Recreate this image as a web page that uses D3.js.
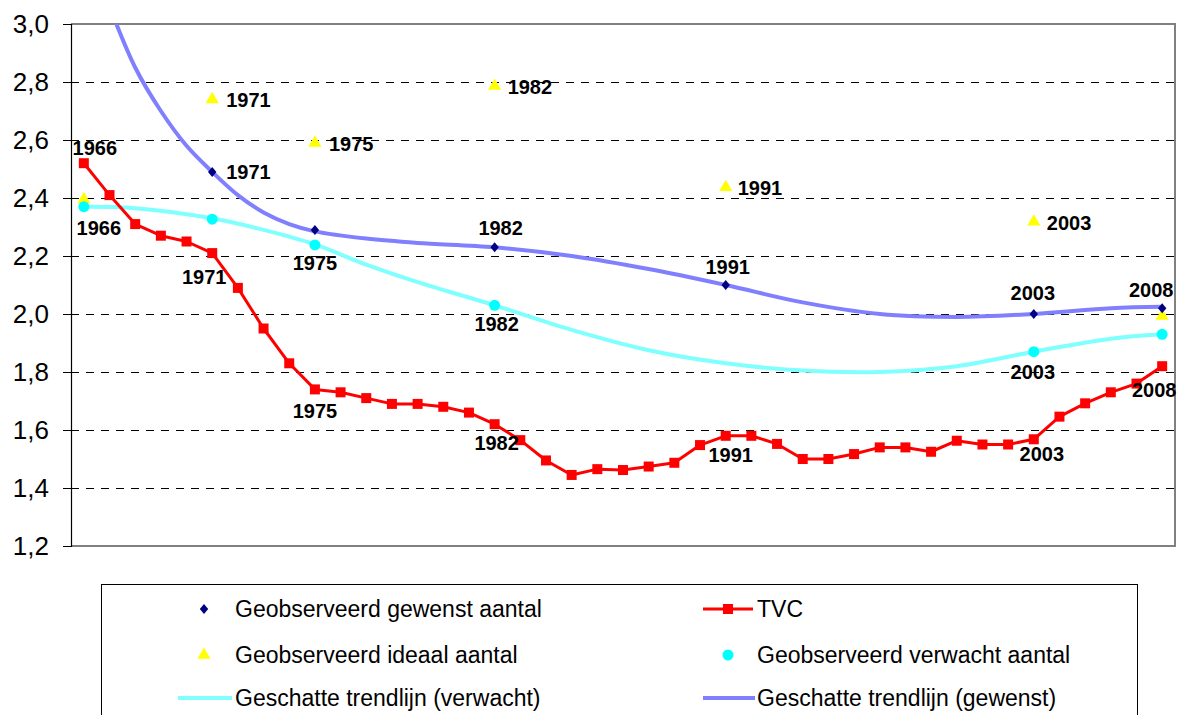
<!DOCTYPE html>
<html>
<head>
<meta charset="utf-8">
<script src="https://cdn.jsdelivr.net/npm/d3@7/dist/d3.min.js"></script>
<style>
  html, body { margin: 0; padding: 0; background: #fff; }
  svg { display: block; font-family: Arial, "Liberation Sans", sans-serif; }
</style>
</head>
<body>
<svg id="chart" width="1177" height="715"></svg>
<script>
// ---------------- DATA ----------------
const years = [1966,1967,1968,1969,1970,1971,1972,1973,1974,1975,1976,1977,1978,1979,1980,
  1981,1982,1983,1984,1985,1986,1987,1988,1989,1990,1991,1992,1993,1994,1995,1996,1997,1998,
  1999,2000,2001,2002,2003,2004,2005,2006,2007,2008];
const tvcValues = [2.52,2.41,2.31,2.27,2.25,2.21,2.09,1.95,1.83,1.74,1.73,1.71,1.69,1.69,1.68,
  1.66,1.62,1.565,1.495,1.445,1.465,1.462,1.474,1.487,1.548,1.58,1.58,1.552,1.50,1.50,1.517,1.54,1.54,
  1.525,1.563,1.55,1.55,1.568,1.646,1.692,1.73,1.76,1.82];

const gewenstYears = [1971,1975,1982,1991,2003,2008];
const gewenstValues = [2.49,2.29,2.23,2.10,2.00,2.02];

const ideaalYears = [1966,1971,1975,1982,1991,2003,2008];
const ideaalValues = [2.395,2.74,2.59,2.786,2.437,2.318,1.993];

const verwachtYears = [1966,1971,1975,1982,2003,2008];
const verwachtValues = [2.37,2.327,2.238,2.03,1.87,1.93];

const trendGewenstYears = [1966,1967,1968,1969,1970,1971,1972,1973,1974,1975,1977,1979,1982,1985,1988,1991,1994,1997,2000,2003,2006,2008];
const trendGewenstValues = [3.30,3.06,2.85,2.70,2.58,2.49,2.41,2.35,2.31,2.285,2.26,2.245,2.23,2.20,2.155,2.10,2.04,2.00,1.99,2.00,2.02,2.025];

const trendVerwachtYears = [1966,1968,1971,1973,1975,1977,1979,1982,1985,1988,1991,1994,1997,2000,2003,2006,2008];
const trendVerwachtValues = [2.37,2.365,2.33,2.29,2.24,2.17,2.11,2.03,1.945,1.875,1.83,1.805,1.80,1.82,1.87,1.915,1.93];

const yTicks = [1.2,1.4,1.6,1.8,2.0,2.2,2.4,2.6,2.8,3.0];

const legendNames = ["Geobserveerd gewenst aantal","TVC","Geobserveerd ideaal aantal",
  "Geobserveerd verwacht aantal","Geschatte trendlijn (verwacht)","Geschatte trendlijn (gewenst)"];

// label placement (offsets from the point, in px)
const tvcLabelLayout = [
  {year:1966, dx:11, dy:-15}, {year:1971, dx:-8, dy:24}, {year:1975, dx:0, dy:22},
  {year:1982, dx:2, dy:19}, {year:1991, dx:5, dy:19}, {year:2003, dx:8, dy:15}, {year:2008, dx:-8, dy:24}];
const gewenstLabelLayout = [
  {year:1971, dx:14, dy:0, anchor:"start"}, {year:1982, dx:6, dy:-19}, {year:1991, dx:2, dy:-18},
  {year:2003, dx:-1, dy:-21}, {year:2008, dx:-11, dy:-18}];
const ideaalLabelLayout = [
  {year:1971, dx:14, dy:1, anchor:"start"}, {year:1975, dx:14, dy:1, anchor:"start"},
  {year:1982, dx:13, dy:1, anchor:"start"}, {year:1991, dx:12, dy:1, anchor:"start"},
  {year:2003, dx:13, dy:1, anchor:"start"}];
const verwachtLabelLayout = [
  {year:1966, dx:15, dy:21}, {year:1975, dx:0, dy:18}, {year:1982, dx:2, dy:19}, {year:2003, dx:-1, dy:20}];

// ---------------- CHART ----------------
const svg = d3.select("#chart");
const plot = {left:71, right:1175, top:24, bottom:546};

const x = d3.scaleLinear().domain([1965.5, 2008.5]).range([plot.left, plot.right]);
const y = d3.scaleLinear().domain([1.2, 3.0]).range([plot.bottom, plot.top]);

const C = {
  tvc:"#FF0000", gewenst:"#000080", ideaal:"#FFFF00", verwacht:"#00FFFF",
  trendV:"#80FFFF", trendG:"#8080FF"
};

const diamondPath = "M0,-5L4.2,0L0,5L-4.2,0Z";

// clip
svg.append("defs").append("clipPath").attr("id","clip")
  .append("rect").attr("x",plot.left).attr("y",plot.top)
  .attr("width",plot.right-plot.left).attr("height",plot.bottom-plot.top);

// gridlines
svg.append("g").selectAll("line").data(yTicks.filter(d => d > 1.21 && d < 2.99)).join("line")
  .attr("x1", plot.left).attr("x2", plot.right)
  .attr("y1", d => y(d)).attr("y2", d => y(d))
  .attr("stroke", "#000").attr("stroke-width", 1).attr("stroke-dasharray", "8,7")
  .attr("shape-rendering","crispEdges");

// plot border (top, right, bottom gray)
svg.append("path")
  .attr("d", `M${plot.left},${plot.top}H${plot.right}V${plot.bottom}H${plot.left}`)
  .attr("fill","none").attr("stroke","#808080").attr("stroke-width",1.5)
  .attr("shape-rendering","crispEdges");

// y axis
const yAxis = d3.axisLeft(y).tickValues(yTicks).tickSize(8).tickPadding(14)
  .tickFormat(d => d3.format(".1f")(d).replace(".", ","));
const gy = svg.append("g").attr("transform", `translate(${plot.left},0)`).call(yAxis);
gy.select(".domain").attr("stroke","#000").attr("stroke-width",1.2);
gy.selectAll(".tick line").attr("stroke","#000");
gy.selectAll(".tick text").attr("font-size", 26).attr("fill","#000")
  .attr("font-family","Arial, 'Liberation Sans', sans-serif");

// trend lines
const lineGen = d3.line().x(d => x(d[0])).y(d => y(d[1])).curve(d3.curveCatmullRom.alpha(0.5));
const gLines = svg.append("g").attr("clip-path","url(#clip)");
gLines.append("path")
  .datum(trendVerwachtYears.map((yr,i) => [yr, trendVerwachtValues[i]]))
  .attr("d", lineGen).attr("fill","none").attr("stroke",C.trendV).attr("stroke-width",4);
gLines.append("path")
  .datum(trendGewenstYears.map((yr,i) => [yr, trendGewenstValues[i]]))
  .attr("d", lineGen).attr("fill","none").attr("stroke",C.trendG).attr("stroke-width",4);

// TVC
const tvcData = years.map((yr,i) => [yr, tvcValues[i]]);
svg.append("path").datum(tvcData)
  .attr("d", d3.line().x(d => x(d[0])).y(d => y(d[1])))
  .attr("fill","none").attr("stroke",C.tvc).attr("stroke-width",3).attr("stroke-linejoin","round");
svg.append("g").selectAll("rect").data(tvcData).join("rect")
  .attr("x", d => x(d[0]) - 5).attr("y", d => y(d[1]) - 5)
  .attr("width", 10).attr("height", 10).attr("fill", C.tvc);

// ideaal triangles
const triSym = d3.symbol().type(d3.symbolTriangle).size(75);
svg.append("g").selectAll("path").data(ideaalYears.map((yr,i) => [yr, ideaalValues[i]])).join("path")
  .attr("d", triSym).attr("transform", d => `translate(${x(d[0])},${y(d[1])})`)
  .attr("fill", C.ideaal);

// verwacht circles
svg.append("g").selectAll("circle").data(verwachtYears.map((yr,i) => [yr, verwachtValues[i]])).join("circle")
  .attr("cx", d => x(d[0])).attr("cy", d => y(d[1])).attr("r", 5.5).attr("fill", C.verwacht);

// gewenst diamonds
svg.append("g").selectAll("path").data(gewenstYears.map((yr,i) => [yr, gewenstValues[i]])).join("path")
  .attr("d", diamondPath).attr("transform", d => `translate(${x(d[0])},${y(d[1])})`)
  .attr("fill", C.gewenst);

// data labels
function addLabels(layout, yrs, vals) {
  svg.append("g").selectAll("text").data(layout).join("text")
    .attr("x", d => x(d.year) + d.dx)
    .attr("y", d => y(vals[yrs.indexOf(d.year)]) + d.dy)
    .attr("text-anchor", d => d.anchor || "middle")
    .attr("dominant-baseline", "central")
    .attr("font-size", 20).attr("font-weight", "bold").attr("fill", "#000")
    .text(d => d.year);
}
addLabels(tvcLabelLayout, years, tvcValues);
addLabels(gewenstLabelLayout, gewenstYears, gewenstValues);
addLabels(ideaalLabelLayout, ideaalYears, ideaalValues);
addLabels(verwachtLabelLayout, verwachtYears, verwachtValues);

// ---------------- LEGEND ----------------
const lg = svg.append("g");
lg.append("rect").attr("x", 101.5).attr("y", 584.5).attr("width", 1036).attr("height", 200)
  .attr("fill", "#fff").attr("stroke", "#000").attr("stroke-width", 1);

const colX = [204, 728];
const textX = [235, 757];
const rowY = [609, 655, 698];

function legendText(col, row, txt) {
  lg.append("text").attr("x", textX[col]).attr("y", rowY[row])
    .attr("dominant-baseline","central").attr("font-size", 23).attr("fill","#000").text(txt);
}
// row 1
lg.append("path").attr("d", diamondPath)
  .attr("transform", `translate(${colX[0]},${rowY[0]})`).attr("fill", C.gewenst);
legendText(0,0,legendNames[0]);
lg.append("line").attr("x1",703).attr("x2",753).attr("y1",rowY[0]).attr("y2",rowY[0])
  .attr("stroke",C.tvc).attr("stroke-width",3);
lg.append("rect").attr("x",colX[1]-5).attr("y",rowY[0]-5).attr("width",10).attr("height",10).attr("fill",C.tvc);
legendText(1,0,legendNames[1]);
// row 2
lg.append("path").attr("d", d3.symbol().type(d3.symbolTriangle).size(75))
  .attr("transform", `translate(${colX[0]},${rowY[1]})`).attr("fill", C.ideaal);
legendText(0,1,legendNames[2]);
lg.append("circle").attr("cx",colX[1]).attr("cy",rowY[1]).attr("r",5.5).attr("fill",C.verwacht);
legendText(1,1,legendNames[3]);
// row 3
lg.append("line").attr("x1",178).attr("x2",232).attr("y1",rowY[2]).attr("y2",rowY[2])
  .attr("stroke",C.trendV).attr("stroke-width",4);
legendText(0,2,legendNames[4]);
lg.append("line").attr("x1",703).attr("x2",755).attr("y1",rowY[2]).attr("y2",rowY[2])
  .attr("stroke",C.trendG).attr("stroke-width",4);
legendText(1,2,legendNames[5]);
</script>
</body>
</html>
